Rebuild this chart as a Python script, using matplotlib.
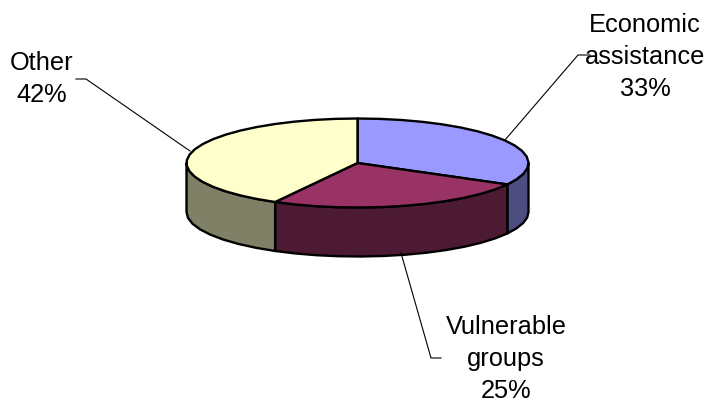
import numpy as np
import matplotlib.pyplot as plt
from matplotlib.patches import Polygon

plt.rcParams['font.family'] = ['Liberation Sans', 'DejaVu Sans']

labels = ['Economic\nassistance\n33%', 'Vulnerable\ngroups\n25%', 'Other\n42%']
shares = [33, 25, 42]
top_colors = ['#9999FF', '#993366', '#FFFFCC']
side_colors = ['#4D4D80', '#4D1A33', '#808066']
label_pos = [(645, 57), (506, 359), (41.5, 79)]
leaders = [
    [(505, 140), (578, 55), (590, 55)],
    [(401, 253), (431, 358), (441, 358)],
    [(190, 151), (86, 79), (76, 79)],
]

cx, cy = 357.5, 163
rx, ry = 171, 44.5
depth = 49
edge = 1.7


def rim(a0, a1):
    # points on the top ellipse, angles clockwise from 12 o'clock
    n = max(int(abs(a1 - a0) / 7), 2)
    a = np.radians(np.linspace(a0, a1, n + 1))
    return np.column_stack([cx + rx * np.sin(a), cy - ry * np.cos(a)])


fig = plt.figure(figsize=(7.13, 4.09), dpi=100)
ax = fig.add_axes([0, 0, 1, 1])
ax.set_xlim(0, 713)
ax.set_ylim(409, 0)
ax.axis('off')

ends = np.cumsum(shares) / sum(shares) * 360
starts = np.concatenate([[0], ends[:-1]])

# outer wall, only the front half of the rim is visible
for a0, a1, c in zip(starts, ends, side_colors):
    lo, hi = max(a0, 90), min(a1, 270)
    if lo < hi:
        pts = rim(lo, hi)
        wall = np.vstack([pts, (pts + [0, depth])[::-1]])
        ax.add_patch(Polygon(wall, closed=True, fc=c, ec='black', lw=edge, joinstyle='round'))

# top face of each slice
for a0, a1, c in zip(starts, ends, top_colors):
    face = np.vstack([[cx, cy], rim(a0, a1)])
    ax.add_patch(Polygon(face, closed=True, fc=c, ec='black', lw=edge, joinstyle='round'))

for pts in leaders:
    xs, ys = zip(*pts)
    ax.plot(xs, ys, color='black', lw=0.8)

for (x, y), txt in zip(label_pos, labels):
    ax.text(x, y, txt, ha='center', va='center', fontsize=18.3, linespacing=1.43, color='black')

fig.savefig('out.png', dpi=100)
